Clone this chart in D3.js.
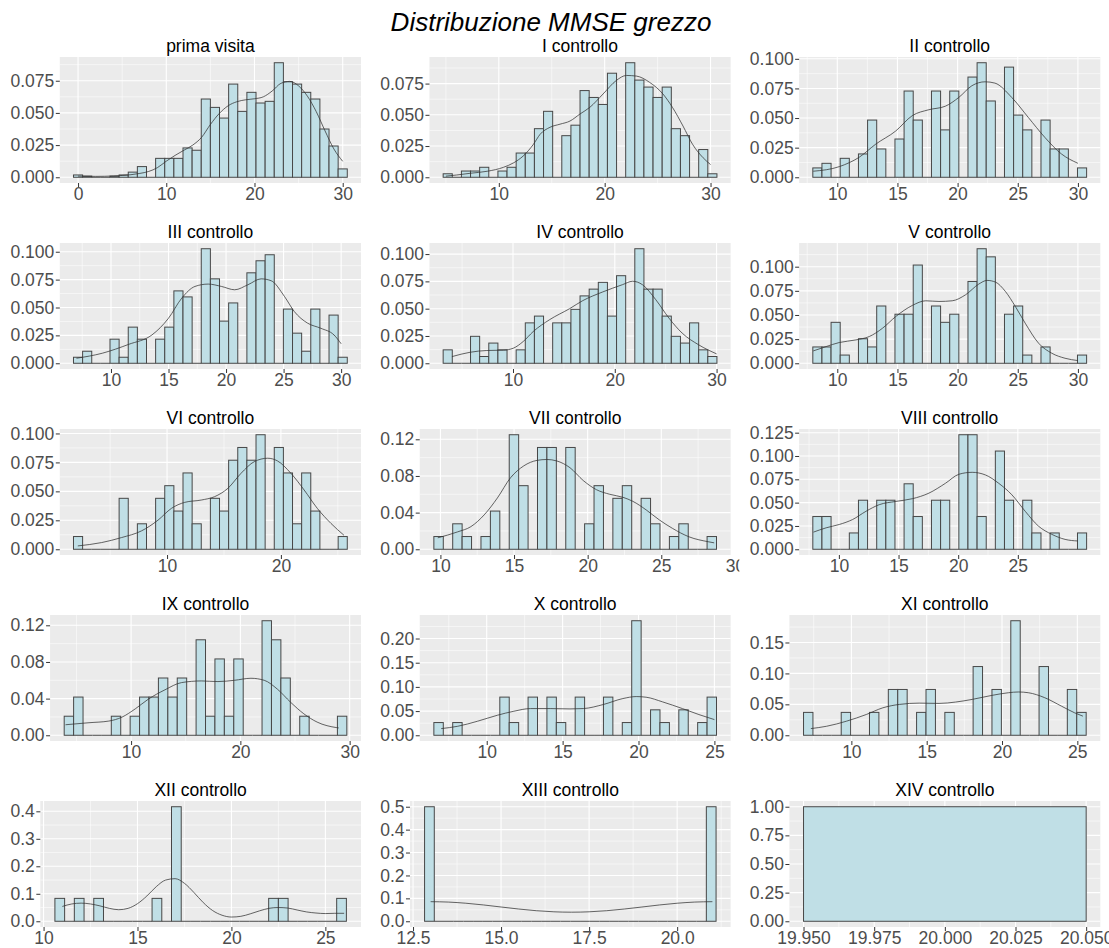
<!DOCTYPE html>
<html lang="it">
<head>
<meta charset="utf-8">
<title>Distribuzione MMSE grezzo</title>
<script src="https://cdn.jsdelivr.net/npm/d3@7/dist/d3.min.js"></script>
<style>
  html, body { margin: 0; padding: 0; background: #ffffff; }
  svg { display: block; }
</style>
</head>
<body>
<svg id="chart" width="1109" height="948"></svg>
<script>
// ---------------------------------------------------------------------------
// Data: one histogram (30 bins, share of patients per bin) per visit,
// plus the kernel-density curve of the same scores.
// ---------------------------------------------------------------------------
const mainTitle = "Distribuzione MMSE grezzo";

const panelTitles = [
  "prima visita", "I controllo", "II controllo",
  "III controllo", "IV controllo", "V controllo",
  "VI controllo", "VII controllo", "VIII controllo",
  "IX controllo", "X controllo", "XI controllo",
  "XII controllo", "XIII controllo", "XIV controllo"
];

// left edge of the first bin and bin width (MMSE points)
const binStart = [-0.5172, 4.7414, 7.9655, 6.7414, 3.1379, 7.9655, 1.78, 9.555, 7.815, 3.8793, 6.5172, 6.824, 10.6034, 12.8276, 19.95];
const binWidth = [1.0345, 0.8621, 0.7586, 0.7931, 0.8966, 0.7586, 0.8017, 0.6398, 0.765, 0.8621, 0.6207, 0.6254, 0.5172, 0.2759, 0.1];

// proportion of scores falling in each bin
const proportions = [
  [0.0018, 0.0009, 0, 0, 0.0009, 0.0018, 0.004, 0.0083, 0, 0.0147, 0.0147, 0.0147, 0.0228, 0.021, 0.0608, 0.0543, 0.046, 0.0724, 0.0512, 0.066, 0.0577, 0.059, 0.089, 0.0742, 0.0724, 0.066, 0.0608, 0.0375, 0.0243, 0.0065],
  [0.0028, 0, 0.005, 0.005, 0.008, 0, 0.005, 0.008, 0.0194, 0.0194, 0.0389, 0.0528, 0, 0.0333, 0.0417, 0.0694, 0.0639, 0.0583, 0.0833, 0, 0.0917, 0.0778, 0.0722, 0.0639, 0.0722, 0.0389, 0.0333, 0, 0.0222, 0.0028],
  [0.0079, 0.0118, 0, 0.016, 0, 0.0197, 0.0483, 0.0239, 0, 0.0323, 0.0728, 0.0483, 0, 0.0728, 0.040, 0.0728, 0, 0.0846, 0.0967, 0.0644, 0, 0.093, 0.0525, 0.040, 0, 0.0483, 0.0239, 0.0239, 0, 0.0079],
  [0.0054, 0.0108, 0, 0, 0.0216, 0.0054, 0.0324, 0.0216, 0, 0.0216, 0.0324, 0.0649, 0.0595, 0, 0.1027, 0.0757, 0.0378, 0.0541, 0, 0.0811, 0.0919, 0.0973, 0, 0.0486, 0.027, 0.0108, 0.0486, 0, 0.0432, 0.0054],
  [0.0123, 0, 0, 0.0247, 0.0062, 0.0185, 0.0123, 0, 0.0123, 0.037, 0.0432, 0, 0.037, 0.037, 0.0494, 0.0617, 0.0679, 0.0741, 0.0432, 0.0802, 0, 0.1049, 0.0679, 0.0679, 0.0432, 0.0247, 0.0185, 0.037, 0.0123, 0.0062],
  [0.0169, 0.0169, 0.0424, 0.0085, 0, 0.0254, 0.0169, 0.0593, 0, 0.0508, 0.0508, 0.1017, 0, 0.0593, 0.0424, 0.0508, 0, 0.0847, 0.1186, 0.1102, 0, 0.0508, 0.0593, 0.0085, 0, 0.0169, 0, 0, 0, 0.0085],
  [0.011, 0, 0, 0, 0, 0.044, 0, 0.022, 0, 0.044, 0.0549, 0.033, 0.0659, 0.022, 0, 0.044, 0.033, 0.0769, 0.0879, 0.0769, 0.0989, 0, 0.0879, 0.0659, 0.022, 0.0659, 0.033, 0, 0, 0.011],
  [0.0139, 0, 0.0278, 0.0139, 0, 0.0139, 0.0417, 0, 0.125, 0.0694, 0, 0.1111, 0.1111, 0, 0.1111, 0, 0.0278, 0.0694, 0, 0.0556, 0.0694, 0, 0.0556, 0.0278, 0, 0.0139, 0.0278, 0, 0, 0.0139],
  [0.0351, 0.0351, 0, 0, 0.0175, 0.0526, 0, 0.0526, 0.0526, 0, 0.0702, 0.0351, 0, 0.0526, 0.0526, 0, 0.1228, 0.1228, 0.0351, 0, 0.1053, 0.0526, 0, 0.0526, 0.0175, 0, 0.0175, 0, 0, 0.0175],
  [0.0208, 0.0417, 0, 0, 0, 0.0208, 0, 0.0208, 0.0417, 0.0417, 0.0625, 0.0417, 0.0625, 0, 0.1042, 0.0208, 0.0833, 0.0208, 0.0833, 0, 0, 0.125, 0.1042, 0.0625, 0, 0.0208, 0, 0, 0, 0.0208],
  [0.0263, 0, 0.0263, 0, 0, 0, 0, 0.0789, 0.0263, 0, 0.0789, 0, 0.0789, 0.0263, 0, 0.0789, 0, 0, 0.0789, 0, 0.0263, 0.2368, 0, 0.0526, 0.0263, 0, 0.0526, 0, 0.0263, 0.0789],
  [0.037, 0, 0, 0, 0.037, 0, 0, 0.037, 0, 0.0741, 0.0741, 0, 0.037, 0.0741, 0, 0.037, 0, 0, 0.1111, 0, 0.0741, 0, 0.1852, 0, 0, 0.1111, 0, 0, 0.0741, 0.037],
  [0.0833, 0, 0.0833, 0, 0.0833, 0, 0, 0, 0, 0, 0.0833, 0, 0.4167, 0, 0, 0, 0, 0, 0, 0, 0, 0, 0.0833, 0.0833, 0, 0, 0, 0, 0, 0.0833],
  [0.5, 0, 0, 0, 0, 0, 0, 0, 0, 0, 0, 0, 0, 0, 0, 0, 0, 0, 0, 0, 0, 0, 0, 0, 0, 0, 0, 0, 0, 0.5],
  [1]
];

// density curve, [score, density]
const densityCurves = [
  [[0,0.0009],[2,0.0007],[4,0.001],[5,0.0014],[6,0.002],[7,0.003],[8,0.0045],[9,0.0075],[10,0.0125],[11,0.017],[12,0.021],[13,0.025],[14,0.031],[15,0.041],[16,0.0495],[17,0.0555],[18,0.0587],[19,0.0602],[20,0.061],[21,0.0625],[22,0.067],[23,0.073],[24,0.0745],[25,0.071],[26,0.063],[27,0.051],[28,0.036],[29,0.022],[30,0.0124]],
  [[5,0.0009],[6,0.0018],[7.3,0.0032],[8.9,0.0048],[10.45,0.008],[11.4,0.0116],[12.3,0.017],[13.27,0.0264],[13.9,0.0344],[14.83,0.040],[15.78,0.0425],[16.72,0.045],[17.66,0.0506],[18.6,0.056],[19.85,0.0667],[21.1,0.0775],[22.05,0.0815],[23.0,0.081],[24.24,0.076],[25.5,0.0667],[26.4,0.056],[27.4,0.041],[28.3,0.0264],[29.3,0.0156],[30,0.0102]],
  [[8,0.0051],[10.17,0.009],[11.82,0.0169],[13.2,0.028],[14.85,0.039],[16.23,0.052],[17.6,0.057],[18.98,0.060],[20.1,0.0674],[21.19,0.0773],[22.29,0.0806],[23.1,0.0795],[24.5,0.0674],[25.87,0.0506],[27.25,0.0337],[28.63,0.0197],[30,0.0118]],
  [[7,0.0045],[9.24,0.009],[11.55,0.017],[13.56,0.0254],[15.0,0.0404],[16.15,0.0584],[17.3,0.0689],[18.45,0.071],[19.6,0.0689],[20.75,0.0659],[21.9,0.0704],[23.05,0.0757],[23.92,0.074],[25.07,0.060],[25.93,0.0464],[27.08,0.036],[28.23,0.0314],[29.38,0.0254],[30,0.0175]],
  [[4,0.0061],[5.8,0.0101],[7.43,0.0117],[9.06,0.012],[10.03,0.0138],[11.01,0.020],[11.98,0.029],[13.61,0.040],[15.56,0.050],[16.86,0.0574],[18.81,0.0653],[20.76,0.072],[21.74,0.0751],[22.71,0.072],[24.02,0.0583],[25.32,0.0414],[26.62,0.0276],[28.24,0.0169],[30,0.0086]],
  [[8,0.0128],[9.07,0.0173],[10.17,0.0215],[11.55,0.0242],[12.66,0.0277],[13.76,0.0363],[14.86,0.0484],[16.24,0.0599],[17.35,0.0647],[18.45,0.064],[19.55,0.0647],[20.66,0.0709],[21.76,0.082],[22.45,0.0858],[23.14,0.0841],[23.97,0.0744],[24.8,0.0588],[25.62,0.0415],[26.73,0.0208],[27.83,0.0104],[28.93,0.0052],[30,0.0028]],
  [[2.16,0.0029],[4.26,0.0058],[6.0,0.0101],[7.76,0.0159],[9.2,0.0251],[10.38,0.0353],[11.55,0.0405],[13.0,0.0425],[14.17,0.0454],[15.34,0.0526],[16.5,0.0656],[17.67,0.0757],[18.84,0.0786],[19.7,0.0763],[20.88,0.0656],[22.04,0.0512],[23.2,0.0353],[24.4,0.0223],[25.54,0.0121]],
  [[9.82,0.0125],[11.17,0.019],[12.07,0.0247],[12.97,0.0375],[13.87,0.056],[14.76,0.078],[15.66,0.091],[16.56,0.097],[17.23,0.098],[17.9,0.0964],[18.8,0.089],[19.7,0.075],[20.6,0.065],[21.5,0.060],[22.4,0.0567],[23.07,0.0523],[23.97,0.043],[24.87,0.032],[25.76,0.0228],[26.88,0.0136],[28.23,0.0081],[28.59,0.007]],
  [[7.87,0.0184],[8.93,0.023],[10.04,0.0266],[11.15,0.0319],[12.27,0.0407],[13.38,0.0478],[14.77,0.0513],[16.16,0.0542],[17.55,0.0602],[18.94,0.0708],[20.06,0.0804],[21.17,0.0825],[22.28,0.0797],[23.39,0.0708],[24.5,0.0584],[25.62,0.0407],[26.73,0.0248],[27.85,0.016],[28.96,0.0106],[30.02,0.0089]],
  [[4,0.0115],[6.15,0.0137],[7.96,0.0155],[9.17,0.0198],[10.38,0.0288],[11.59,0.0395],[13.1,0.0496],[14.62,0.0575],[16.43,0.0593],[17.95,0.0586],[19.46,0.060],[20.97,0.0622],[22.18,0.060],[23.39,0.0503],[24.6,0.036],[25.81,0.0234],[27.02,0.0144],[28.83,0.0083],[29,0.008]],
  [[7,0.0138],[8.09,0.0186],[9.39,0.029],[10.7,0.0414],[11.79,0.0497],[12.88,0.0552],[14.18,0.0552],[15.49,0.0545],[16.36,0.0552],[17.67,0.0635],[18.97,0.0759],[19.85,0.080],[20.5,0.0787],[21.59,0.069],[22.89,0.0552],[23.98,0.0428],[25,0.0324]],
  [[7.31,0.0108],[8.36,0.0146],[9.68,0.0228],[10.99,0.0336],[12.09,0.0444],[13.19,0.0499],[14.5,0.052],[15.82,0.0515],[16.92,0.0537],[18.02,0.058],[19.33,0.0645],[20.43,0.0688],[21.09,0.070],[21.75,0.0688],[22.84,0.0607],[23.94,0.0472],[24.82,0.0363],[25.37,0.0309]],
  [[11,0.054],[11.5,0.063],[12,0.066],[12.5,0.063],[13,0.056],[13.5,0.047],[14,0.042],[14.5,0.047],[15,0.064],[15.5,0.092],[16,0.126],[16.5,0.150],[17,0.155],[17.5,0.138],[18,0.105],[18.5,0.068],[19,0.039],[19.5,0.022],[20,0.0154],[20.5,0.018],[21,0.027],[21.5,0.038],[22,0.047],[22.5,0.050],[23,0.048],[23.5,0.041],[24,0.034],[24.5,0.030],[25,0.028],[25.5,0.029],[26,0.029]],
  [[13,0.0855],[13.5,0.0838],[14,0.0788],[14.5,0.0713],[15,0.0623],[15.5,0.0535],[16,0.0461],[16.5,0.0413],[17,0.0396],[17.5,0.0413],[18,0.0461],[18.5,0.0535],[19,0.0623],[19.5,0.0713],[20,0.0788],[20.5,0.0838],[21,0.0855]],
  []
];

// axis breaks and their printed labels
const yTicks = [
  [0, 0.025, 0.05, 0.075], [0, 0.025, 0.05, 0.075], [0, 0.025, 0.05, 0.075, 0.1],
  [0, 0.025, 0.05, 0.075, 0.1], [0, 0.025, 0.05, 0.075, 0.1], [0, 0.025, 0.05, 0.075, 0.1],
  [0, 0.025, 0.05, 0.075, 0.1], [0, 0.04, 0.08, 0.12], [0, 0.025, 0.05, 0.075, 0.1, 0.125],
  [0, 0.04, 0.08, 0.12], [0, 0.05, 0.1, 0.15, 0.2], [0, 0.05, 0.1, 0.15],
  [0, 0.1, 0.2, 0.3, 0.4], [0, 0.1, 0.2, 0.3, 0.4, 0.5], [0, 0.25, 0.5, 0.75, 1]
];
const yTickLabels = [
  ["0.000", "0.025", "0.050", "0.075"], ["0.000", "0.025", "0.050", "0.075"], ["0.000", "0.025", "0.050", "0.075", "0.100"],
  ["0.000", "0.025", "0.050", "0.075", "0.100"], ["0.000", "0.025", "0.050", "0.075", "0.100"], ["0.000", "0.025", "0.050", "0.075", "0.100"],
  ["0.000", "0.025", "0.050", "0.075", "0.100"], ["0.00", "0.04", "0.08", "0.12"], ["0.000", "0.025", "0.050", "0.075", "0.100", "0.125"],
  ["0.00", "0.04", "0.08", "0.12"], ["0.00", "0.05", "0.10", "0.15", "0.20"], ["0.00", "0.05", "0.10", "0.15"],
  ["0.0", "0.1", "0.2", "0.3", "0.4"], ["0.0", "0.1", "0.2", "0.3", "0.4", "0.5"], ["0.00", "0.25", "0.50", "0.75", "1.00"]
];
const xTicks = [
  [0, 10, 20, 30], [10, 20, 30], [10, 15, 20, 25, 30],
  [10, 15, 20, 25, 30], [10, 20, 30], [10, 15, 20, 25, 30],
  [10, 20], [10, 15, 20, 25, 30], [10, 15, 20, 25],
  [10, 20, 30], [10, 15, 20, 25], [10, 15, 20, 25],
  [10, 15, 20, 25], [12.5, 15, 17.5, 20], [19.95, 19.975, 20, 20.025, 20.05]
];
const xTickLabels = [
  ["0", "10", "20", "30"], ["10", "20", "30"], ["10", "15", "20", "25", "30"],
  ["10", "15", "20", "25", "30"], ["10", "20", "30"], ["10", "15", "20", "25", "30"],
  ["10", "20"], ["10", "15", "20", "25", "30"], ["10", "15", "20", "25"],
  ["10", "20", "30"], ["10", "15", "20", "25"], ["10", "15", "20", "25"],
  ["10", "15", "20", "25"], ["12.5", "15.0", "17.5", "20.0"], ["19.950", "19.975", "20.000", "20.025", "20.050"]
];

// ---------------------------------------------------------------------------
// Layout and style
// ---------------------------------------------------------------------------
const W = 1109, H = 948;
const nCols = 3;
const cellW = W / nCols, cellH = 186, gridTop = 18;
const FONT = '"Liberation Sans", Arial, Helvetica, sans-serif';
const TEXT_SIZE = 17.5;
const AXIS_GREY = "#4d4d4d";
const PANEL_BG = "#ebebeb";
const BAR_FILL = "#c0dfe6";
const BAR_LINE = "#474747";
const CURVE_LINE = "#333333";

const svg = d3.select("#chart");
const defs = svg.append("defs");

const measurer = svg.append("text")
  .attr("font-family", FONT).attr("font-size", TEXT_SIZE)
  .attr("visibility", "hidden");
const textWidth = s => { measurer.text(s); return measurer.node().getComputedTextLength(); };

// midpoints between major breaks, including one step past either end
function minorBreaks(major, domain) {
  if (major.length < 2) return [];
  const step = major[1] - major[0];
  const ext = [major[0] - step, ...major, major[major.length - 1] + step];
  const out = [];
  for (let i = 0; i < ext.length - 1; i++) out.push((ext[i] + ext[i + 1]) / 2);
  return out.filter(v => v >= domain[0] && v <= domain[1]);
}
const inside = (v, dom) => v >= dom[0] - 1e-9 && v <= dom[1] + 1e-9;

panelTitles.forEach((title, p) => {
  const col = p % nCols, row = Math.floor(p / nCols);
  const cellX = col * cellW, cellY = gridTop + row * cellH;

  defs.append("clipPath").attr("id", "cell-" + p)
    .append("rect").attr("x", cellX).attr("y", cellY).attr("width", cellW).attr("height", cellH);

  const g = svg.append("g").attr("clip-path", `url(#cell-${p})`);

  const labelW = d3.max(yTickLabels[p], textWidth);
  const left = cellX + 11 + labelW + 5;
  const right = cellX + cellW - 8.7;
  const top = cellY + 39, bottom = cellY + 165;

  const vals = proportions[p];
  const bins = vals.map((v, i) => ({
    x0: binStart[p] + i * binWidth[p],
    x1: binStart[p] + (i + 1) * binWidth[p],
    v
  }));
  const lo = bins[0].x0, hi = bins[bins.length - 1].x1;
  const padX = (hi - lo) * 0.05;
  const x = d3.scaleLinear().domain([lo - padX, hi + padX]).range([left, right]);

  const curve = densityCurves[p];
  const yMax = Math.max(d3.max(vals), curve.length ? d3.max(curve, d => d[1]) : 0);
  const y = d3.scaleLinear().domain([-0.05 * yMax, 1.05 * yMax]).range([bottom, top]);

  // panel background and grid
  g.append("rect").attr("x", left).attr("y", top)
    .attr("width", right - left).attr("height", bottom - top).attr("fill", PANEL_BG);

  const grid = g.append("g").attr("stroke", "#ffffff").attr("fill", "none");
  minorBreaks(yTicks[p], y.domain()).forEach(v => {
    grid.append("line").attr("x1", left).attr("x2", right)
      .attr("y1", y(v)).attr("y2", y(v)).attr("stroke-width", 0.55);
  });
  minorBreaks(xTicks[p], x.domain()).forEach(v => {
    grid.append("line").attr("y1", top).attr("y2", bottom)
      .attr("x1", x(v)).attr("x2", x(v)).attr("stroke-width", 0.55);
  });
  yTicks[p].forEach(v => {
    grid.append("line").attr("x1", left).attr("x2", right)
      .attr("y1", y(v)).attr("y2", y(v)).attr("stroke-width", 1.1);
  });
  xTicks[p].filter(v => inside(v, x.domain())).forEach(v => {
    grid.append("line").attr("y1", top).attr("y2", bottom)
      .attr("x1", x(v)).attr("x2", x(v)).attr("stroke-width", 1.1);
  });

  // histogram bars (empty bins leave their outline on the baseline)
  const barsG = g.append("g");
  barsG.selectAll("rect")
    .data(bins.filter(d => d.v > 0))
    .join("rect")
    .attr("x", d => x(d.x0))
    .attr("width", d => x(d.x1) - x(d.x0))
    .attr("y", d => y(d.v))
    .attr("height", d => y(0) - y(d.v))
    .attr("fill", BAR_FILL)
    .attr("stroke", BAR_LINE)
    .attr("stroke-width", 1);
  barsG.selectAll("line")
    .data(bins.filter(d => d.v === 0))
    .join("line")
    .attr("x1", d => x(d.x0)).attr("x2", d => x(d.x1))
    .attr("y1", y(0)).attr("y2", y(0))
    .attr("stroke", BAR_LINE).attr("stroke-width", 1);

  // density curve
  if (curve.length) {
    g.append("path")
      .datum(curve)
      .attr("fill", "none")
      .attr("stroke", CURVE_LINE)
      .attr("stroke-width", 0.75)
      .attr("d", d3.line().x(d => x(d[0])).y(d => y(d[1])).curve(d3.curveMonotoneX));
  }

  // axes
  const yAxis = d3.axisLeft(y)
    .tickValues(yTicks[p])
    .tickFormat((d, i) => yTickLabels[p][i])
    .tickSize(4).tickPadding(1.5);
  const ya = g.append("g").attr("transform", `translate(${left},0)`).call(yAxis);

  const xAxis = d3.axisBottom(x)
    .tickValues(xTicks[p])
    .tickFormat((d, i) => xTickLabels[p][i])
    .tickSize(4).tickPadding(0.4);
  const xa = g.append("g").attr("transform", `translate(0,${bottom})`).call(xAxis);
  // tick marks only where the break lies on the panel
  xa.selectAll(".tick line").filter(d => !inside(d, x.domain())).remove();

  [ya, xa].forEach(a => {
    a.select(".domain").remove();
    a.attr("font-family", FONT).attr("font-size", TEXT_SIZE);
    a.selectAll(".tick line").attr("stroke", "#333333").attr("stroke-width", 1);
    a.selectAll(".tick text").attr("fill", AXIS_GREY);
  });

  // panel heading
  g.append("text")
    .attr("x", (left + right) / 2).attr("y", top - 5.5)
    .attr("text-anchor", "middle")
    .attr("font-family", FONT).attr("font-size", TEXT_SIZE)
    .attr("fill", "#000000")
    .text(title);
});

// overall heading, drawn last so it sits on top
svg.append("text")
  .attr("x", 551).attr("y", 31)
  .attr("text-anchor", "middle")
  .attr("font-family", FONT).attr("font-size", 26)
  .attr("font-style", "italic")
  .attr("fill", "#000000")
  .text(mainTitle);

measurer.remove();
</script>
</body>
</html>
